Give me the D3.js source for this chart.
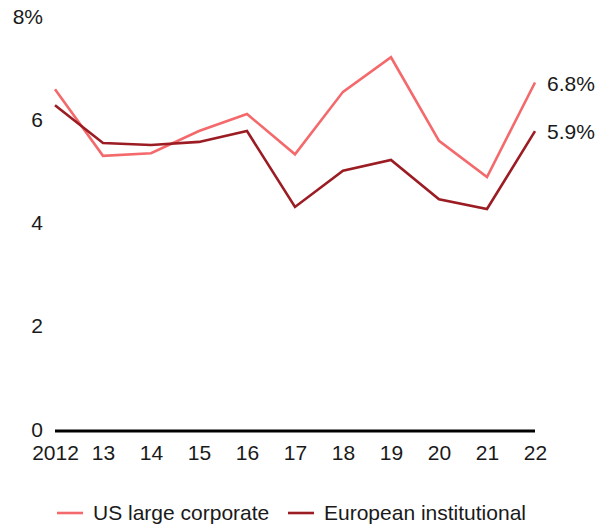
<!DOCTYPE html>
<html>
<head>
<meta charset="utf-8">
<script src="https://cdn.jsdelivr.net/npm/d3@7"></script>
<style>
  body { margin: 0; background: #fff; }
  text { font-family: "Liberation Sans", Arial, sans-serif; fill: #1a1a1a; }
</style>
</head>
<body>
<script>
// datos
var years = ["2012", "13", "14", "15", "16", "17", "18", "19", "20", "21", "22"];
var usLarge = [6.62, 5.33, 5.38, 5.81, 6.14, 5.36, 6.57, 7.24, 5.62, 4.92, 6.75];
var euroInst = [6.31, 5.58, 5.54, 5.60, 5.81, 4.34, 5.04, 5.25, 4.49, 4.30, 5.81];
var yTicks = [0, 2, 4, 6, 8];
var endLabels = ["6.8%", "5.9%"];
var seriesNames = ["US large corporate", "European institutional"];
var colors = ["#f4696b", "#9b1c22"];

var w = 597;
var h = 527;

var svg = d3.select("body")
            .append("svg")
            .attr("width", w)
            .attr("height", h);

var xScale = d3.scalePoint()
            .domain(years)
            .range([55, 535]);

var yScale = d3.scaleLinear()
            .domain([0, 8])
            .range([431, 18]);

//eje y solo con etiquetas
var yAxis = d3.axisLeft(yScale)
    .tickValues(yTicks)
    .tickSize(0)
    .tickPadding(0)
    .tickFormat(function(d) { return d === 8 ? "8%" : d; });

svg.append("g")
    .attr("transform", "translate(43,0)")
    .call(yAxis)
    .call(function(g) { g.select(".domain").remove(); })
    .selectAll("text")
    .attr("font-size", "21px")
    .attr("dy", "0.24em")
    .attr("fill", "#1a1a1a");

//eje x
var xAxis = d3.axisBottom(xScale)
    .tickSize(0)
    .tickPadding(23);

svg.append("g")
    .attr("transform", "translate(0,431)")
    .call(xAxis)
    .call(function(g) {
        g.select(".domain").attr("stroke", "#000").attr("stroke-width", 3)
            .attr("d", "M" + xScale.range()[0] + ",0H" + xScale.range()[1]);
    })
    .selectAll("text")
    .attr("font-size", "21px")
    .attr("dy", "0.3em")
    .attr("fill", "#1a1a1a");

var line = d3.line()
    .x(function(d, i) { return xScale(years[i]); })
    .y(function(d) { return yScale(d); });

var allSeries = [usLarge, euroInst];

svg.selectAll("path.serie")
    .data(allSeries)
    .enter()
    .append("path")
    .attr("class", "serie")
    .attr("d", line)
    .attr("fill", "none")
    .attr("stroke", function(d, i) { return colors[i]; })
    .attr("stroke-width", 2.6)
    .attr("stroke-linejoin", "miter");

//etiquetas finales
svg.selectAll("text.endlabel")
    .data(allSeries)
    .enter()
    .append("text")
    .attr("class", "endlabel")
    .attr("x", xScale(years[years.length - 1]) + 12)
    .attr("y", function(d) { return yScale(d[d.length - 1]); })
    .attr("dy", "0.38em")
    .attr("font-size", "21px")
    .text(function(d, i) { return endLabels[i]; });

//leyenda
var legendX = [57, 288];
var legend = svg.selectAll("g.legend")
    .data(seriesNames)
    .enter()
    .append("g")
    .attr("class", "legend")
    .attr("transform", function(d, i) { return "translate(" + legendX[i] + ",513)"; });

legend.append("line")
    .attr("x1", 0)
    .attr("x2", 26)
    .attr("stroke", function(d, i) { return colors[i]; })
    .attr("stroke-width", 2.6);

legend.append("text")
    .attr("x", 36)
    .attr("dy", "0.35em")
    .attr("font-size", "21px")
    .text(function(d) { return d; });
</script>
</body>
</html>
